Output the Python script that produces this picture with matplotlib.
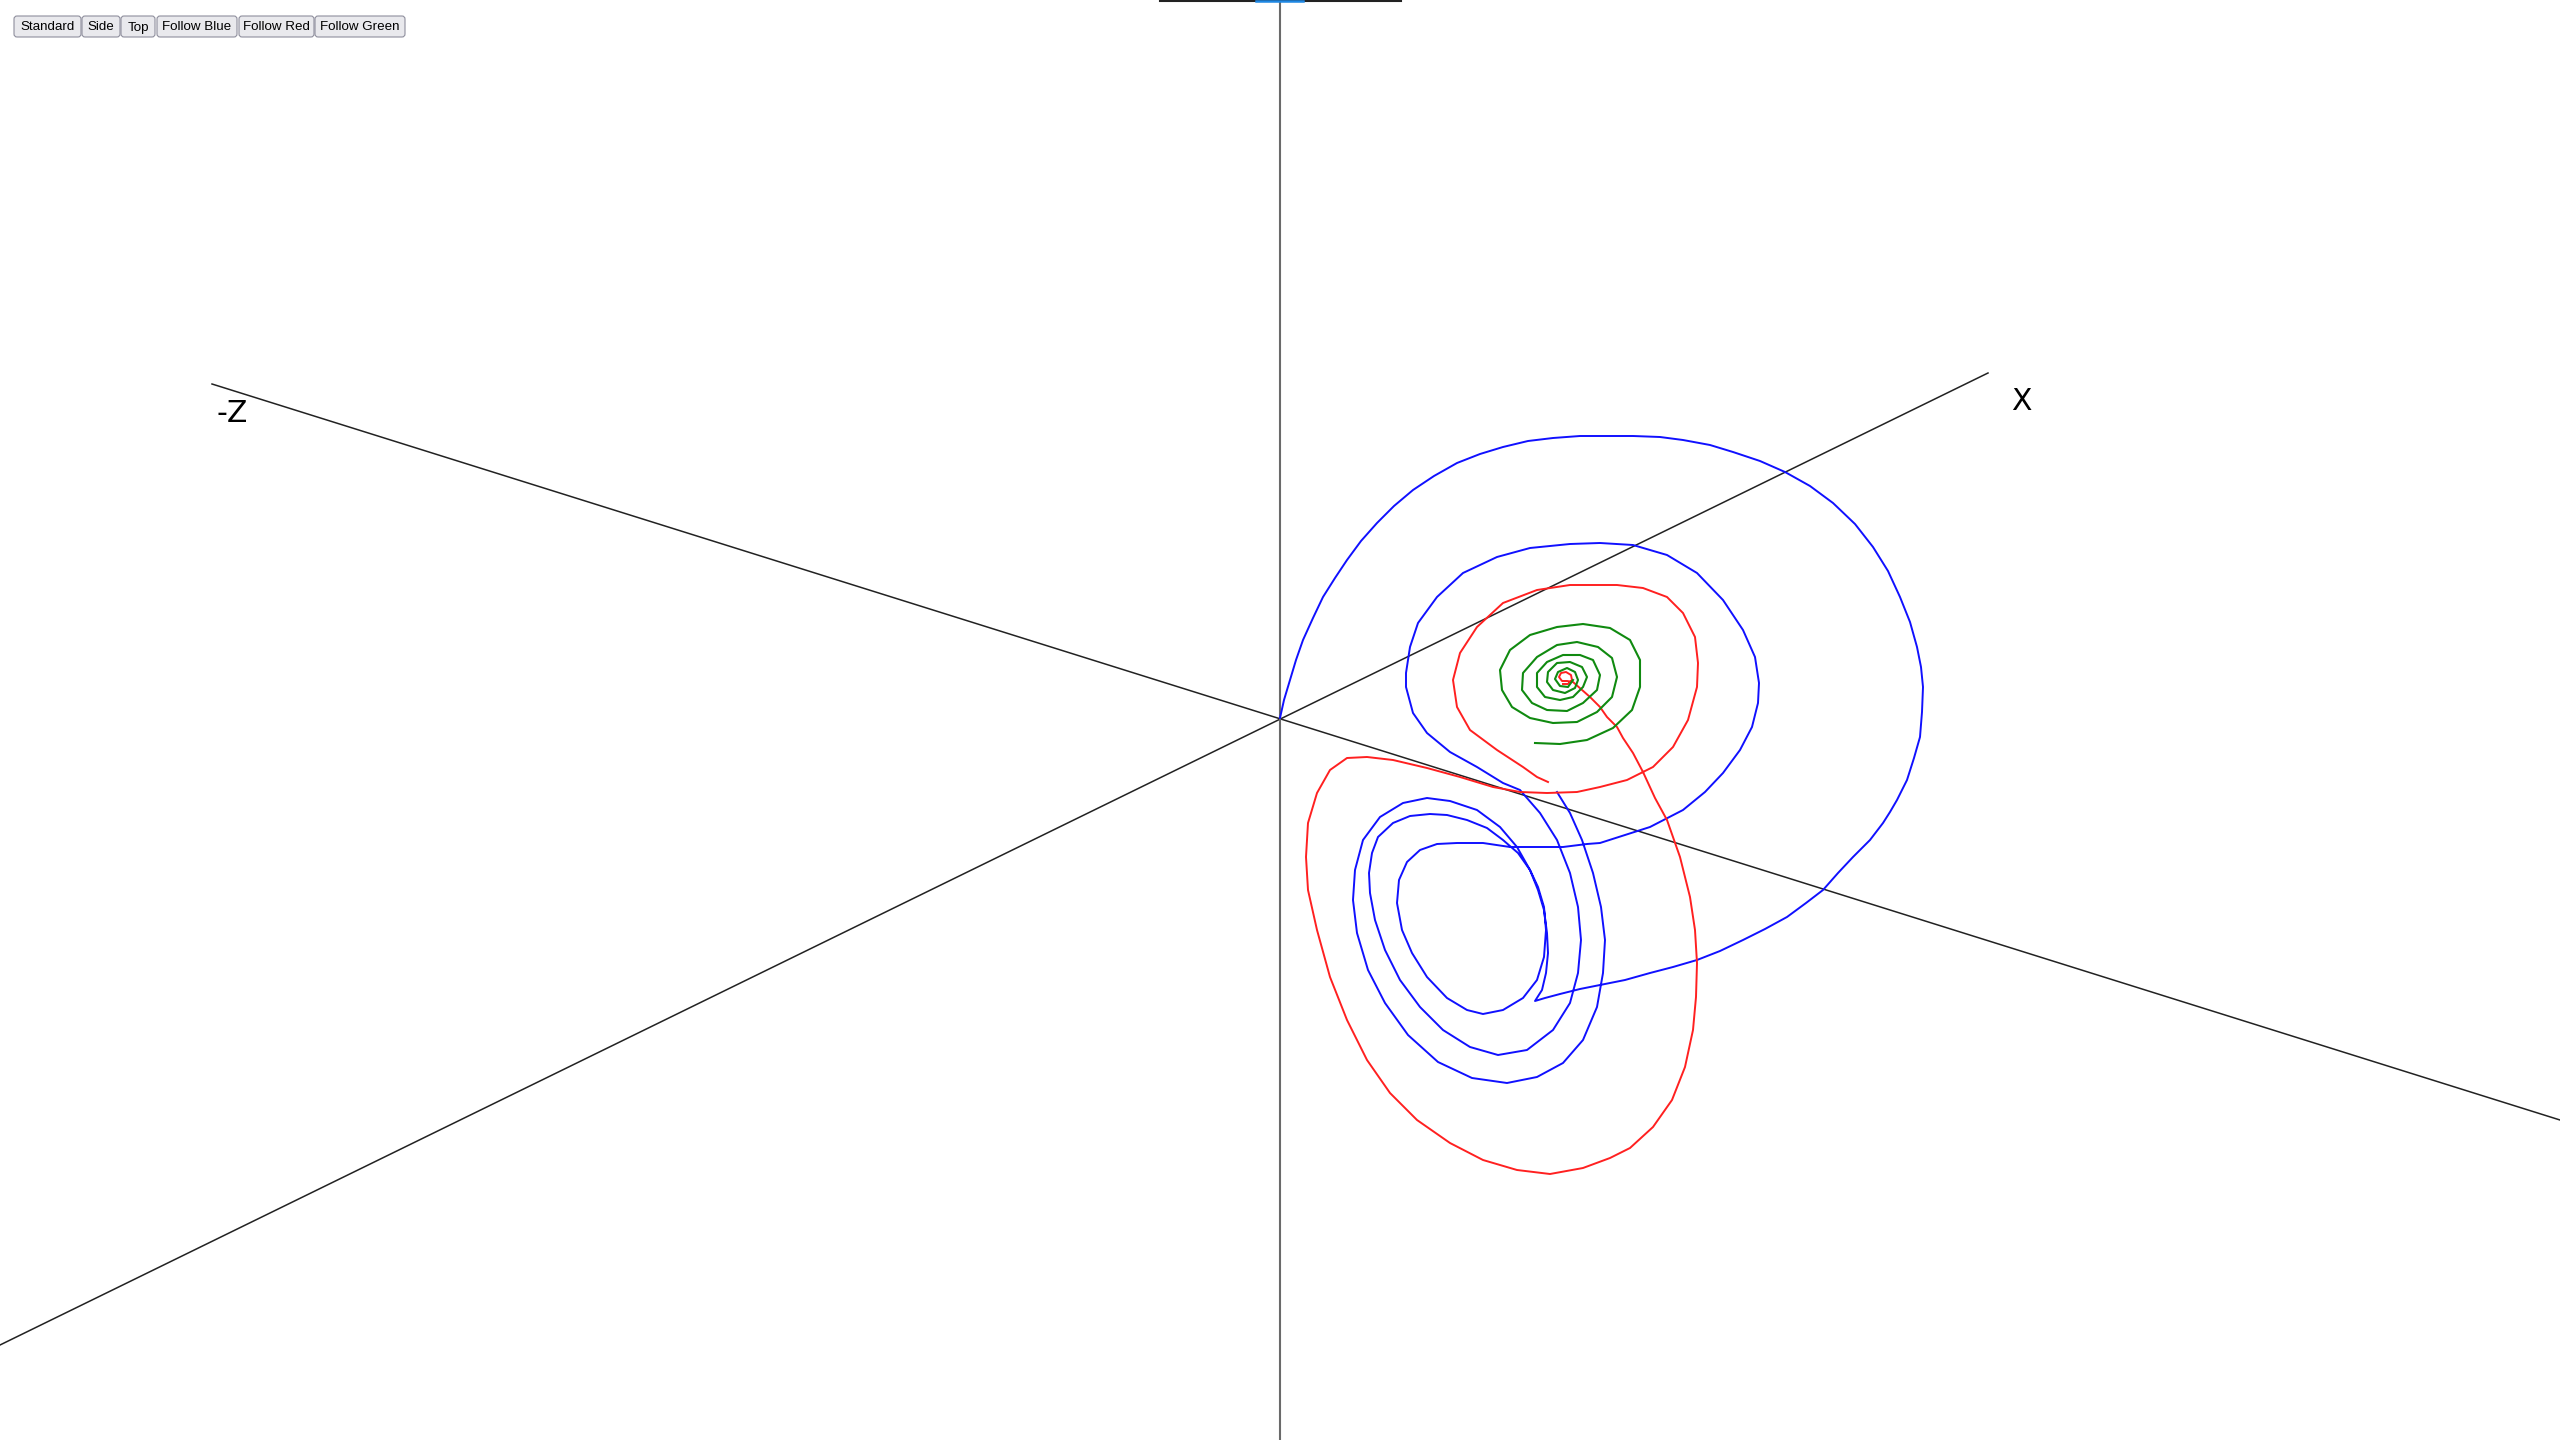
import matplotlib.pyplot as plt
from matplotlib.patches import FancyBboxPatch
import numpy as np

# traced trajectories, in pixel coordinates of the 2560x1440 view
blue_pts = [(1280,718),(1284,700),(1290,680),(1296,660),(1303,640),(1313,618),(1323,597),(1335,578),
  (1347,560),(1361,541),(1377,523),(1394,506),(1413,490),(1434,476),(1457,463),(1480,454),(1503,447),
  (1528,441),(1553,438),(1580,436),(1610,436),(1633,436),(1660,437),(1683,440),(1710,445),(1733,452),
  (1760,461),(1785,472),(1810,486),(1833,503),(1855,524),(1873,547),(1888,571),(1900,597),(1910,622),
  (1917,647),(1921,667),(1923,687),(1922,712),(1920,737),(1914,758),(1907,780),(1897,800),(1890,812),
  (1883,823),(1870,840),(1853,857),(1838,873),(1823,890),(1806,903),(1787,917),(1765,929),(1743,940),
  (1720,951),(1697,960),(1673,967),(1650,973),(1625,980),(1600,985),(1580,989),(1560,994),(1545,998),
  (1535,1001),(1542,990),(1546,973),(1548,953),(1547,933),(1544,910),(1538,890),(1530,870),(1518,853),
  (1503,840),(1487,828),(1467,820),(1447,815),(1430,814),(1410,816),(1393,823),(1378,837),(1372,853),
  (1369,873),(1370,893),(1375,920),(1385,950),(1400,980),(1420,1007),(1443,1030),(1470,1047),
  (1498,1055),(1527,1050),(1553,1030),(1570,1003),(1578,973),(1581,940),(1578,907),(1570,873),
  (1557,840),(1540,813),(1520,790),(1503,783),(1477,767),(1450,752),(1427,733),(1413,713),(1406,687),
  (1406,673),(1410,647),(1418,623),(1437,597),(1463,573),(1497,557),(1530,548),(1570,544),(1600,543),
  (1633,545),(1667,555),(1697,573),(1723,600),(1743,630),(1755,657),(1759,683),(1758,703),(1752,727),
  (1740,750),(1723,773),(1705,792),(1683,810),(1650,827),(1600,843),(1587,844),(1563,847),(1537,847),
  (1510,847),(1483,843),(1457,843),(1437,844),(1420,850),(1407,862),(1399,880),(1397,903),(1402,930),
  (1412,953),(1427,977),(1447,998),(1467,1010),(1483,1014),(1503,1010),(1523,998),(1537,980),
  (1544,957),(1546,930),(1544,907),(1538,887),(1530,870),(1517,847),(1500,827),(1477,810),(1450,801),
  (1427,798),(1403,803),(1380,817),(1363,840),(1355,870),(1353,900),(1357,933),(1368,970),(1385,1003),
  (1408,1035),(1438,1062),(1472,1078),(1507,1083),(1537,1077),(1563,1063),(1583,1040),(1597,1007),
  (1603,973),(1605,940),(1601,907),(1593,873),(1582,840),(1570,813),(1557,792)]

red_pts = [(1563,684),(1568,684),(1572,680),(1571,675),(1566,672),(1561,673),(1559,677),(1562,681),
  (1567,681),(1573,682),(1590,697),(1600,707),(1607,717),(1617,727),(1623,738),(1633,753),(1643,772),
  (1655,798),(1667,820),(1680,857),(1690,897),(1695,930),(1697,963),(1696,997),(1693,1030),(1685,1067),
  (1672,1100),(1653,1127),(1630,1148),(1610,1158),(1583,1168),(1550,1174),(1517,1170),(1483,1160),
  (1450,1143),(1417,1120),(1390,1093),(1367,1060),(1347,1020),(1330,977),(1317,930),(1308,890),
  (1306,857),(1308,823),(1317,793),(1330,770),(1347,758),(1367,757),(1393,760),(1427,768),(1460,777),
  (1493,787),(1520,792),(1547,793),(1577,792),(1600,787),(1627,780),(1653,767),(1673,747),(1688,720),
  (1697,687),(1698,663),(1695,637),(1683,613),(1667,597),(1643,588),(1617,585),(1600,585),(1570,585),
  (1537,590),(1503,603),(1477,627),(1460,653),(1453,680),(1457,707),(1470,730),(1497,750),(1523,767),
  (1537,777),(1548,782)]

green_pts = [(1535,743),(1560,744),(1587,740),(1613,728),(1632,710),(1640,687),(1640,660),(1630,640),
  (1610,628),(1583,624),(1557,627),(1530,635),(1510,650),(1500,670),(1502,690),(1512,707),(1530,718),
  (1553,723),(1577,722),(1597,712),(1612,697),(1617,677),(1612,658),(1598,647),(1577,642),(1557,645),
  (1537,657),(1523,673),(1522,690),(1532,703),(1547,710),(1567,711),(1583,703),(1597,690),(1600,675),
  (1593,660),(1580,655),(1563,655),(1547,662),(1537,673),(1537,687),(1545,697),(1560,700),(1573,697),
  (1583,687),(1587,677),(1582,667),(1570,662),(1557,663),(1548,672),(1547,682),(1553,690),(1565,693),
  (1575,688),(1578,680),(1575,672),(1567,668),(1558,672),(1555,679),(1560,686),(1568,687),(1573,680)]

# axis lines: (start, end)
axis_x = [(0,1345),(1988,373)]
axis_z = [(212,384),(2560,1120)]
axis_y = [(1280,0),(1280,1440)]
top_bar = [(1160,1),(1401,1)]
top_bar_hi = [(1256,1),(1303,1)]

buttons = ['Standard','Side','Top','Follow Blue','Follow Red','Follow Green']
button_x = [(14,81),(82,120),(121,155),(157,237),(239,314),(315,405)]

fig = plt.figure(figsize=(25.6,14.4), dpi=100)
ax = fig.add_axes([0,0,1,1])
ax.set_xlim(0,2560)
ax.set_ylim(1440,0)
ax.axis('off')

def seg(p, **kw):
  xs, ys = zip(*p)
  ax.plot(xs, ys, **kw)

seg(axis_x, color='#222222', lw=1.1)
seg(axis_z, color='#222222', lw=1.1)
seg(axis_y, color='#6a6a6a', lw=1.5)
seg(top_bar, color='#222222', lw=1.5)
seg(top_bar_hi, color='#1e88e5', lw=1.8)

seg(blue_pts, color='#1010ff', lw=1.4, solid_joinstyle='round')
seg(red_pts, color='#ff2020', lw=1.4, solid_joinstyle='round')
seg(green_pts, color='#108a10', lw=1.5, solid_joinstyle='round')

ax.text(216, 422, '-Z', fontsize=21.5, color='black', va='baseline', ha='left')
ax.text(2011, 410, 'X', fontsize=21.5, color='black', va='baseline', ha='left')

for name, (x0, x1) in zip(buttons, button_x):
  b = FancyBboxPatch((x0, 16), x1-x0, 21, boxstyle='round,pad=0,rounding_size=3',
                     fc='#e9e9ed', ec='#8f8f9d', lw=0.8)
  ax.add_patch(b)
  ax.text((x0+x1)/2, 27.5, name, fontsize=9.6, family='Liberation Sans', ha='center', va='center', color='black')

plt.savefig('out.png', dpi=100)
